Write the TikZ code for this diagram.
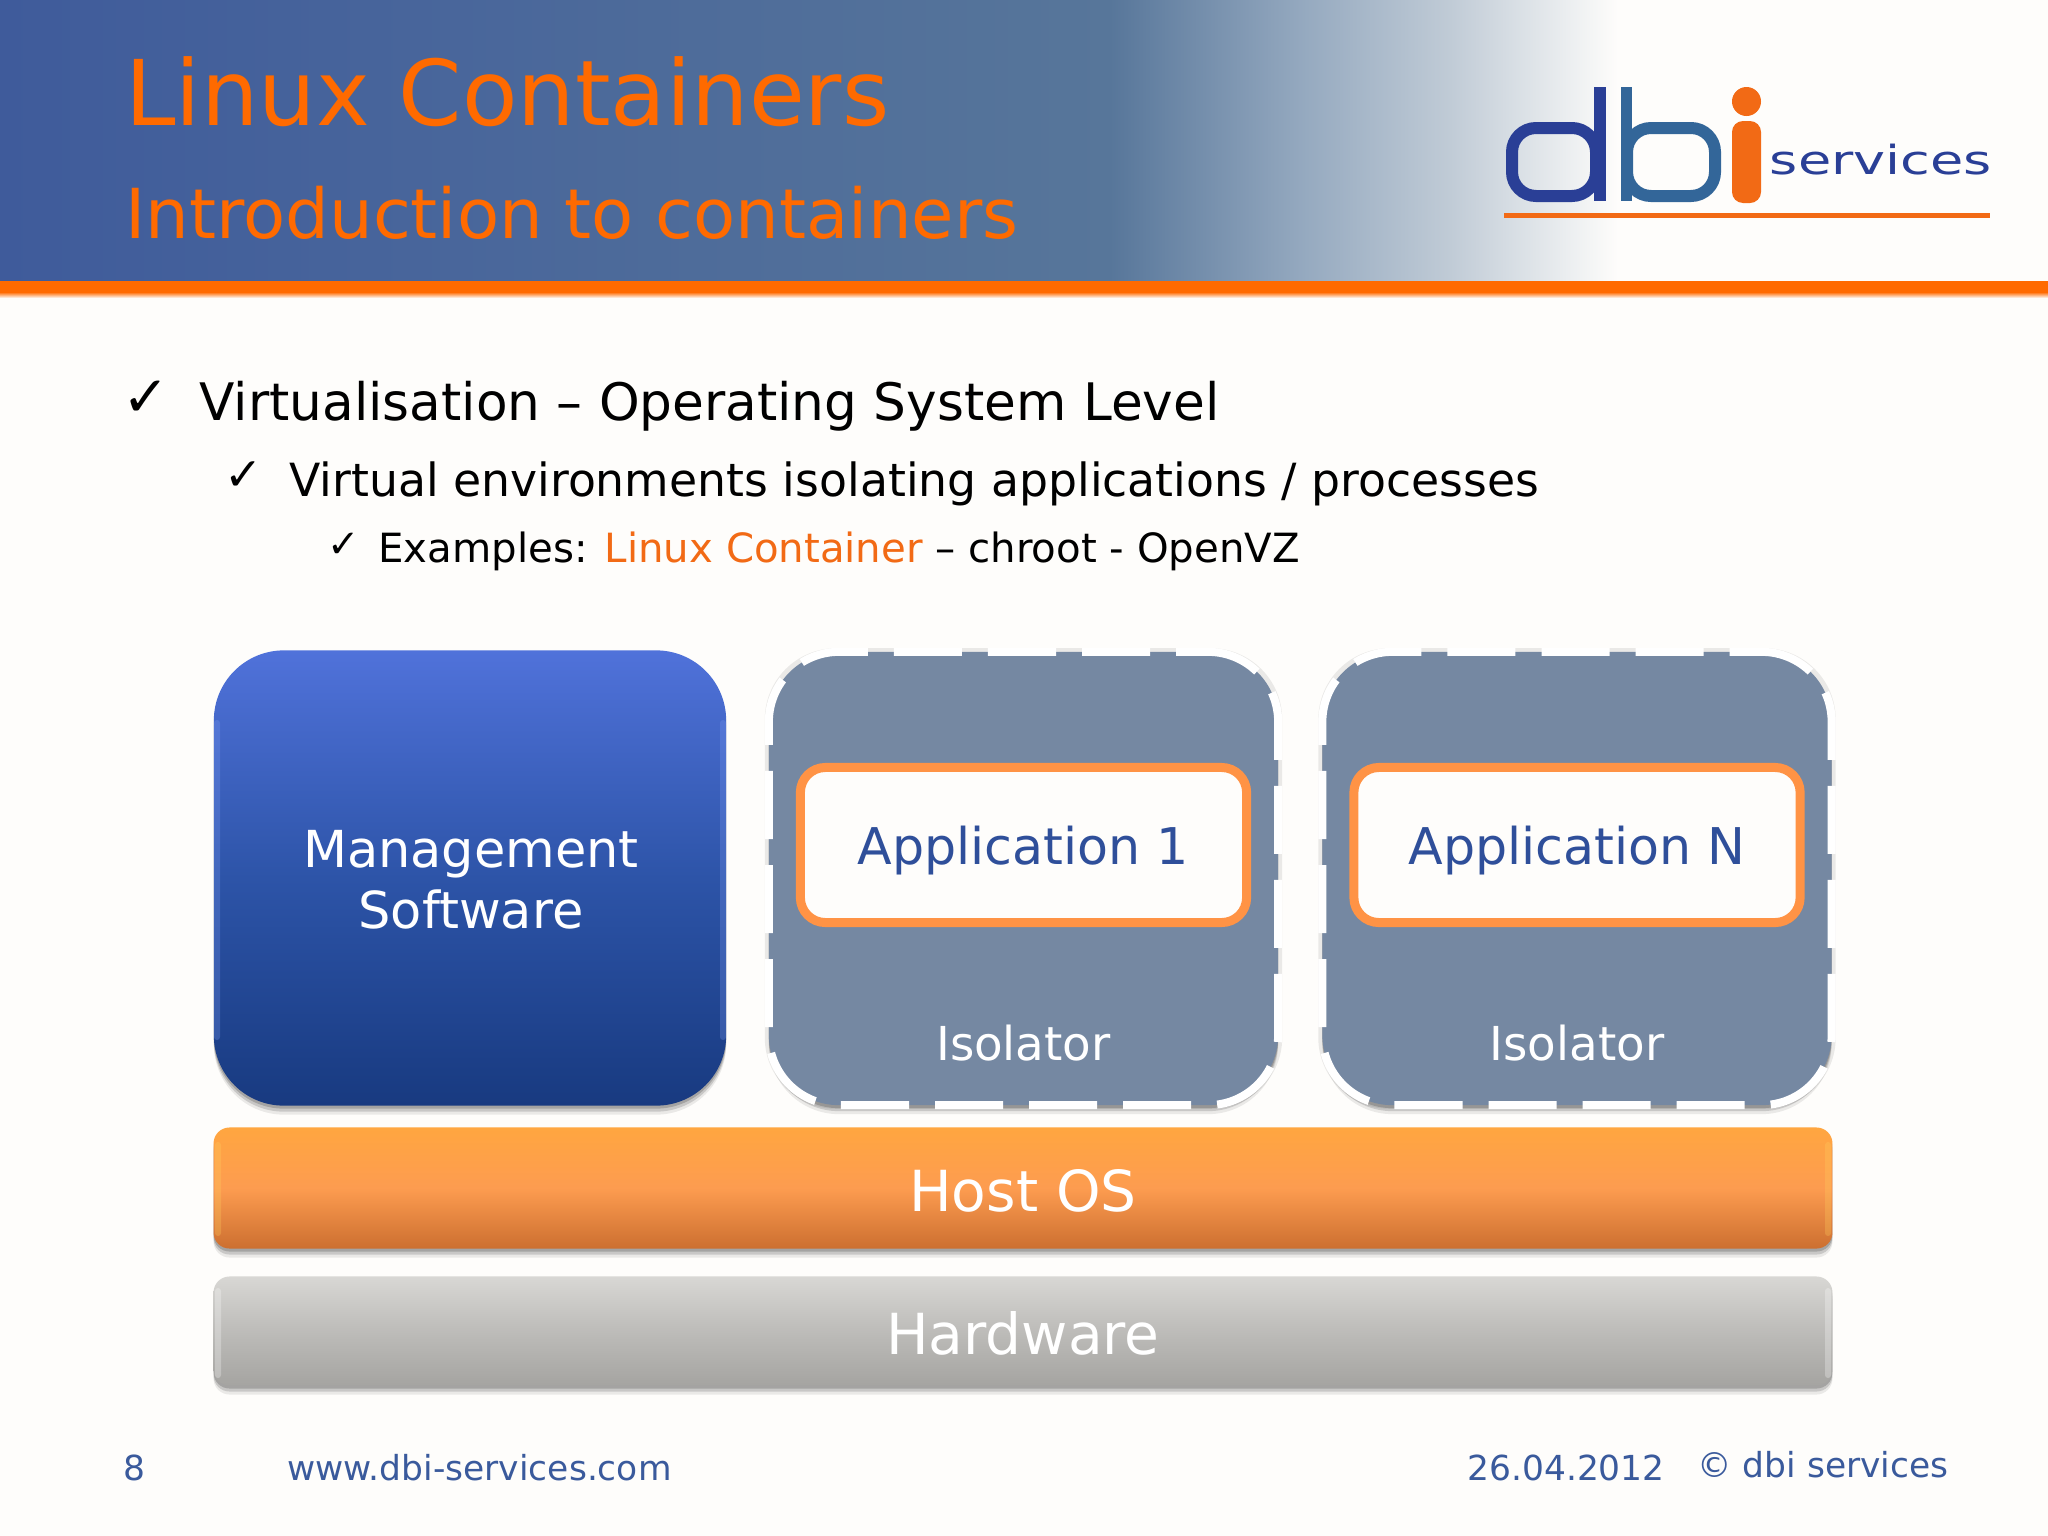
\documentclass[tikz,border=0pt]{standalone}
\usepackage{fontspec}
\setmainfont{DejaVu Sans}
\usetikzlibrary{shadows,positioning}

\definecolor{pagebg}{HTML}{FEFDFB}
\definecolor{headblue}{HTML}{3F5B9B}
\definecolor{headmid}{HTML}{57769A}
\definecolor{headgrey}{HTML}{96AAC0}
\definecolor{headpale}{HTML}{C0CBD6}
\definecolor{dbiorange}{HTML}{F26A15}
\definecolor{bandorange}{HTML}{FF6A00}
\definecolor{textblue}{HTML}{3A5A9C}
\definecolor{appblue}{HTML}{2F4F9A}
\definecolor{isofill}{HTML}{7588A2}
\definecolor{apporange}{HTML}{FF9345}
\definecolor{dblue}{HTML}{2A3F96}
\definecolor{bblue}{HTML}{336699}
\definecolor{mgmttop}{HTML}{5072DA}
\definecolor{mgmtmid}{HTML}{2D54A8}
\definecolor{mgmtbottom}{HTML}{183A80}
\definecolor{mgmtglow}{HTML}{7C9CF5}
\definecolor{hosttop}{HTML}{FFA640}
\definecolor{hostmid}{HTML}{FD9C50}
\definecolor{hostbottom}{HTML}{CC6F30}
\definecolor{hostglow}{HTML}{FFD060}
\definecolor{hwtop}{HTML}{D8D7D4}
\definecolor{hwmid}{HTML}{BDBCB9}
\definecolor{hwbottom}{HTML}{A5A4A1}

\pgfdeclarehorizontalshading{headerfade}{100bp}{
  color(0bp)=(headblue); color(25bp)=(headblue); color(52.1bp)=(headmid);
  color(56.9bp)=(headgrey); color(60.4bp)=(headpale); color(64.5bp)=(pagebg);
  color(100bp)=(pagebg)}

\tikzset{
  softshadow/.style={
    drop shadow={shadow xshift=0cm,shadow yshift=-0.03cm,opacity=.18,fill=black},
    drop shadow={shadow xshift=0cm,shadow yshift=-0.06cm,opacity=.14,fill=black},
    drop shadow={shadow xshift=0cm,shadow yshift=-0.09cm,opacity=.08,fill=black}},
  titletext/.style={anchor=base west,text=bandorange},
  bullettext/.style={anchor=base west,text=black},
  tickmark/.style={anchor=base west,text=black},
  footertext/.style={anchor=base west,text=textblue,font=\fontsize{9.8}{12}\selectfont},
  managebox/.style={softshadow,rectangle,rounded corners=0.7cm,minimum width=5.12cm,minimum height=4.55cm,
    top color=mgmttop,bottom color=mgmtbottom,middle color=mgmtmid},
  managelabel/.style={text=white,align=center,font=\fontsize{14.5}{17.4}\selectfont},
  isolatorbox/.style={softshadow,rectangle,rounded corners=0.7cm,minimum width=5.09cm,minimum height=4.53cm,
    fill=isofill,
    drop shadow={shadow xshift=0cm,shadow yshift=0cm,shadow scale=1.016,opacity=.08,fill=black},
    postaction={draw=white,line width=0.08cm,dash pattern=on 0.68cm off 0.26cm,dash phase=0.36cm}},
  appbox/.style={rectangle,rounded corners=0.25cm,minimum width=4.46cm,minimum height=1.55cm,
    fill=pagebg,draw=apporange,line width=0.09cm,text=appblue,text depth=0pt,font=\fontsize{14.4}{18}\selectfont},
  isolabel/.style={text=white,font=\fontsize{13.3}{16}\selectfont},
  barbox/.style={softshadow,rectangle,rounded corners=0.16cm,minimum width=16.18cm,text=white,
    text height=0.47cm,text depth=0cm,font=\fontsize{16.1}{20}\selectfont},
  edgeglow/.style={rounded corners=0.03cm,opacity=.28},
}

\begin{document}
\begin{tikzpicture}[x=0.01cm,y=-0.01cm]
    \useasboundingbox (0,0) rectangle (2048,1536);
    \fill[pagebg] (0,0) rectangle (2048,1536);

    % Header band
    \shade[shading=headerfade] (0,0) rectangle (2048,281);
    \fill[bandorange] (0,281) rectangle (2048,292);
    \shade[top color=bandorange,bottom color=pagebg] (0,292) rectangle (2048,298);
    \node[titletext,font=\fontsize{25.8}{32}\selectfont] (title) at (113,125) {Linux Containers};
    \node[titletext,font=\fontsize{19.6}{25}\selectfont] (subtitle) at (113,238) {Introduction to containers};

    % Logo
    \draw[dblue,line width=0.12cm,rounded corners=0.24cm] (1512,128) rectangle (1596,196);
    \fill[dblue] (1594,87) rectangle (1606,201);
    \draw[bblue,line width=0.12cm,rounded corners=0.24cm] (1627,128) rectangle (1715,196);
    \fill[bblue] (1621,87) rectangle (1632,201);
    \fill[dbiorange] (1746.5,101.5) ellipse (14.5 and 14.5);
    \fill[dbiorange,rounded corners=0.11cm] (1732,121) rectangle (1761,203);
    \node[anchor=base west,text=dblue,inner sep=0pt,xscale=1.35,font=\fontsize{11.4}{14}\selectfont] (logotext) at (1769,174) {services};
    \fill[dbiorange] (1504,213) rectangle (1990,218);

    % Bullet list
    \node[tickmark,font=\fontsize{16}{20}\selectfont] (tick1) at (110,416) {✓};
    \node[bullettext,font=\fontsize{14.7}{18}\selectfont] (line1) at (187,420) {Virtualisation – Operating System Level};
    \node[tickmark,font=\fontsize{13}{16}\selectfont] (tick2) at (212,490) {✓};
    \node[bullettext,font=\fontsize{13}{16}\selectfont] (line2) at (277,496) {Virtual environments isolating applications / processes};
    \node[tickmark,font=\fontsize{11}{14}\selectfont] (tick3) at (315,557) {✓};
    \node[bullettext,font=\fontsize{11.45}{14}\selectfont] (line3) at (366,562) {Examples: \textcolor{dbiorange}{Linux Container} – chroot - OpenVZ};

    % Management and isolators
    \node[managebox] (manage) at (470,878) {};
    \foreach \gx in {214,720} {
        \fill[mgmtglow,edgeglow] (\gx,720) rectangle (\gx+6,1040);
    }
    \node[managelabel] (managetext) at (471,880) {Management\\Software};
    \foreach \name/\cx/\label in {iso1/1023.5/Application 1,isoN/1577/Application N} {
        \node[isolatorbox] (\name) at (\cx,878.5) {};
        \node[appbox] at (\cx,845) (\name app) {\label};
        \node[isolabel] at (\cx,1043) (\name lab) {Isolator};
    }

    % Host and hardware bars
    \node[barbox,minimum height=1.21cm,top color=hosttop,bottom color=hostbottom,middle color=hostmid] (host) at (1023,1188) {Host OS};
    \node[barbox,minimum height=1.09cm,top color=hwtop,bottom color=hwbottom,middle color=hwmid] (hardware) at (1023,1331) {Hardware};
    \foreach \gx in {215,1825} {
        \fill[hostglow,edgeglow] (\gx,1142) rectangle (\gx+6,1236);
        \fill[white,edgeglow] (\gx,1288) rectangle (\gx+6,1378);
    }

    % Footer
    \node[footertext] (pagenum) at (111,1480) {8};
    \node[footertext] (website) at (275,1480) {www.dbi-services.com};
    \node[footertext] (date) at (1455,1480) {26.04.2012};
    \node[footertext] (copy) at (1685,1477) {© dbi services};
\end{tikzpicture}
\end{document}
